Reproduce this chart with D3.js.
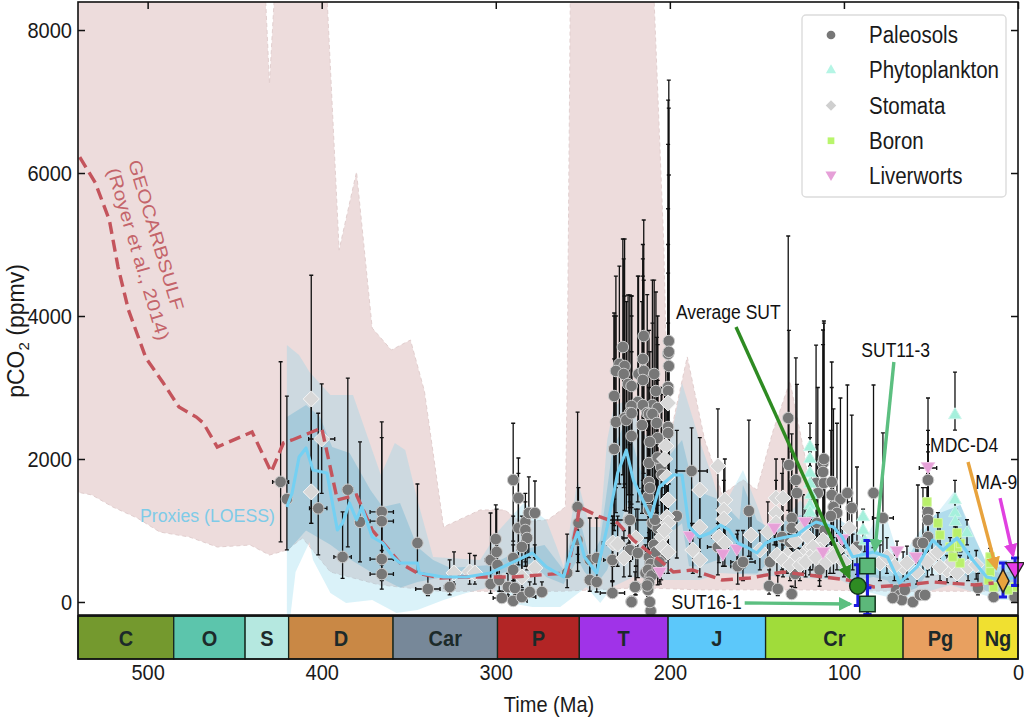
<!DOCTYPE html>
<html>
<head>
<meta charset="utf-8">
<script src="https://cdn.jsdelivr.net/npm/d3@7"></script>
<style>
  body { margin: 0; background: #fff; }
  text { font-family: "Liberation Sans", Arial, sans-serif; }
</style>
</head>
<body>
<svg width="1024" height="720"></svg>
<script>
// geologic periods: name, start, end (Ma)
const periods = [
  ["C", 541, 485, "#74992e"], ["O", 485, 444, "#5cc5ac"], ["S", 444, 419, "#b5e8e0"],
  ["D", 419, 359, "#c98845"], ["Car", 359, 299, "#778899"], ["P", 299, 252, "#b22525"],
  ["T", 252, 201, "#a033e8"], ["J", 201, 145, "#5cc8fa"], ["Cr", 145, 66, "#a0dc3a"],
  ["Pg", 66, 23, "#e8a060"], ["Ng", 23, 0, "#f0e030"]
];

const xTicks = [500, 400, 300, 200, 100, 0];
const yTicks = [0, 2000, 4000, 6000, 8000];

// GEOCARBSULF envelope and mean [age, ppm]
const geoUpper = [[541,9000],[433.3,9000],[430,7245],[426,9000],[398,9000],[390,4923],[380,6014],[371,3832],[360,3524],[349,3664],[341,2950],[330,1049],[309,1287],[295,1287],[285,1119],[270,1150],[260,1329],[259,3000],[257,9000],[210,9000],[203.5,5000],[201,2200],[190,3427],[180,2266],[175,1916],[170,1500],[158,1710],[150,1567],[141,2370],[131,3086],[122,1986],[119.5,1287],[102,600],[79,350],[0,420]];
const geoLower = [[541,1540],[532,1497],[520,1329],[506,1175],[493,979],[476,909],[460,769],[441,797],[430,657],[420,727],[411,895],[395,420],[367,240],[332,150],[263,150],[217,200],[183,170],[125,170],[68,150],[0,150]];
const geoMean = [[539,6224],[530,5860],[522,5343],[517,4685],[511,4084],[501,3413],[491,3063],[482,2727],[472,2587],[468,2503],[460,2168],[440,2378],[429,1818],[422,2224],[417,2266],[400,2434],[391,1427],[380,1497],[371,1007],[355,545],[345,406],[332,336],[317,350],[290,350],[259,406],[253,1147],[252,1329],[240,1189],[230,1105],[221,867],[206,587],[198,420],[187,448],[170,308],[154,336],[135,420],[116,364],[98,308],[83,210],[64,238],[49,280],[24,238],[14,266]];

// proxy LOESS curve and its two envelopes [age, ppm]
const loess = [[420,1329],[417,1524],[413,2028],[409,2154],[405,1846],[397,1804],[391,1007],[388,1105],[384,1385],[380,1147],[377,1329],[371,909],[365,825],[359,629],[355,545],[345,545],[344,406],[330,350],[317,350],[303,406],[290,559],[279,685],[271,490],[261,350],[256,769],[253,979],[249,629],[242,406],[236,1049],[230,1804],[225,2126],[221,1706],[211,1189],[206,1608],[198,1776],[193,1776],[189,1049],[183,909],[177,965],[171,1077],[166,1007],[161,825],[156,769],[150,685],[145,825],[141,867],[133,909],[127,937],[121,1049],[116,1119],[106,1049],[101,909],[95,629],[83,699],[75,629],[68,266],[58,490],[49,867],[43,727],[35,895],[26,587],[18,350],[10,308],[1,350]];
const outerUpper = [[420,3594],[413,3455],[407,3217],[395,2895],[382,2895],[371,2126],[366,1776],[358,2224],[352,2126],[345,1427],[336,629],[309,587],[298,1007],[284,1385],[271,1147],[265,769],[261,490],[253,1706],[246,1049],[240,1049],[236,2266],[232,2755],[223,2825],[217,2406],[211,2266],[206,1846],[201,2126],[193,3063],[183,2266],[176,1776],[170,1287],[158,1846],[150,1357],[143,867],[125,1427],[117,1147],[102,867],[91,727],[82,1147],[76,1217],[68,587],[56,1007],[45,1287],[36,1566],[30,1147],[16,448],[0,587]];
const outerLower = [[420,-200],[418,-200],[415,420],[407,840],[405,587],[395,126],[386,-14],[371,28],[357,-154],[345,-112],[330,28],[317,126],[303,210],[292,-14],[279,-70],[263,-70],[248,210],[240,-14],[233,210],[221,350],[202,308],[183,308],[171,406],[102,308],[91,168],[68,28],[39,238],[10,28],[0,28]];
const innerUpper = [[420,2587],[409,2755],[401,2587],[394,2168],[384,2084],[372,1566],[365,1329],[355,1385],[345,769],[336,587],[326,475],[303,517],[286,727],[272,797],[261,448],[253,1287],[246,587],[240,867],[233,2126],[225,2545],[217,1846],[209,1706],[200,2056],[193,2266],[186,1566],[171,1427],[160,1147],[158,1636],[150,1147],[143,1035],[125,1217],[102,1147],[91,937],[68,448],[48,1217],[33,1357],[19,587],[0,587]];
const innerLower = [[420,700],[409,1000],[395,800],[384,600],[367,350],[355,200],[345,280],[330,350],[303,350],[290,450],[279,550],[271,350],[261,250],[253,600],[249,420],[242,250],[236,450],[230,900],[225,1400],[221,1100],[211,650],[206,800],[198,1000],[193,1100],[189,500],[183,500],[171,600],[161,400],[150,400],[141,600],[127,600],[116,700],[106,650],[101,500],[95,300],[83,350],[75,300],[68,100],[58,200],[49,500],[43,400],[35,500],[26,250],[18,150],[10,150],[0,150]];

// proxy rows: age, ppm, age error, low, high
const paleosols = [
  [423.6,1680,4.6,840,3360],[420,1440,3,730,2880],[402,1310,5,660,2640],[385,1570,3,770,3130],[388,630,5,330,1260],[378,1120,2,560,2240],
  [365.5,1260,6.7,630,2520],[365.5,1130,6.7,520,2300],[365.5,600,6.7,300,1200],[365.5,390,6.7,180,720],
  [345,825,1,420,1650],[339,182,7,90,370],[326.5,210,3,100,590],[303,587,3,300,1245],[303,252,2,120,400],[300,880,2,440,1357],[299.5,700,2,350,1300],[299,517,2,250,900],[298,308,2,150,500],[296.5,56,5,10,150],[293,210,2,100,400],
  [290,1706,1,850,2500],[290,615,2,300,1200],[290,448,2,220,800],[290,15,8,5,60],[289,196,2,100,350],[287,1455,1,730,2014],[287,1035,1,520,1800],[283,1119,1,560,1520],[283,1007,1,500,1400],[282,895,1,450,1300],[285,770,1,380,1200],[281,1245,1,620,1750],[277.5,1245,1,620,1692],[285,70,8,30,170],[280.5,140,8,70,280],[273.5,140,3,70,280],
  [253,1329,1,665,2657],[252.5,1105,1,550,1600],[253,867,1,430,1300],[259,406,1,200,950],[246,587,1,290,1175],[242,615,1,300,1175],[246,308,1,150,600],[242,280,1,140,560],[233,587,5,300,1200],[233,126,7,60,280],[223.5,1147,12,580,2800],[219.5,210,3,100,500],[222,10],[232,2140,1,1000,4000],[211,-125],
  [215,3720,1,1800,5343],[227,3566,1,1780,5077],[200.6,3650,1,1800,7300],[229,3329,1,1650,4699],[226,3300,1,1650,4280],[231,3231,1,1600,4559],[226.5,3189,1,1600,4800],[215.5,3399,1,1700,4800],[218,3189,1,1590,4559],[215,3231,1,1600,4500],[215.5,3105,1,1550,4559],[209,3189,1,1590,4503],[201,3469,1,1730,7020],[200.6,3300,1,1650,6909],[200.6,3500,1,1750,5972],[224,3049,1,1500,4294],[222,3021,1,1500,4280],[232,2881,1,1440,4042],[201,3007,1,1500,5500],[201,2951,1,1470,6400],[208,2951,1,1470,4336],[218.4,2797,1,1400,4559],[222,2741,1,1370,4280],[210,2755,1,1370,4503],[215.5,2755,1,1370,5000],[207,2713,1,1350,4000],[223,2643,1,1320,4294],[213,2643,1,1320,4300],[226,2573,1,1280,5077],
  [231,2517,1,1250,4000],[225,2545,1,1270,4200],[222,2640,1,1320,4000],[212,2630,1,1300,3800],[210,2630,1,1310,3900],[207.5,2503,1,1250,3700],[216,2475,1,1240,4200],[201,2447,1,1220,5000],[201,2363,1,1180,4600],[222,2322,1,1160,3500],[207,2294,1,1150,3600],[211.5,2238,1,1120,3500],[232,2140,1,1070,3400],[207.5,1986,1,990,3100],[212,1944,1,970,3000],[205,1888,1,940,3000],[212,1678,1,840,2800],[204.6,1780,1,890,2900],[207,2020,1,1010,3100],[212.5,1469,1,730,2400],[211.5,1594,1,800,2600],[212,1287,1,640,2200],[210,1105,1,550,1900],[214,406,1,200,800],[212.5,168,1,80,400],[211.5,0],[222,0],[220,210,1,100,420],[223,727,1,360,1400],[218.4,685,1,340,1300],[233,587,1,290,1100],[223,1147,1,570,2200],
  [212,630,1,310,1200],[211,530,1,260,1000],[212.5,450,1,220,900],[211.5,340,1,170,700],[210.5,370,1,180,720],[212,270,1,130,550],[213,230,1,110,460],[205,630,1,310,1100],[207,1035,1,520,1900],[204.6,895,1,450,1600],[208.5,1150,1,570,2000],[209,800,1,400,1500],[208,700,1,350,1300],[207,480,1,240,900],[206,560,1,280,1000],
  [187.5,1832,9,1040,2434],[196,1203,1,615,2400],[172.4,769,6,380,1300],[161,500,4,250,1000],
  [132,2573,1,1280,5119],[131.6,1916,1,950,3800],[127.6,1706,1,850,3413],[127,1524,1,760,3045],[130,1175,1,590,2350],[130,1035,1,520,2100],[116,1664,1,830,3594],[111.5,1664,1,830,3930],[107,1678,1,840,3357],[112,1944,1,970,3804],[112,1818,1,900,3600],[111.5,2000,1,1000,3900],[115,1524,1,760,3000],[107,1497,1,750,3000],[102,1440,1,720,2853],[98,1524,1,760,3035],[95.5,1315,3,660,2615],[83,1524,1,760,3035],[77.6,1175,6,590,2364],[92.5,770,1,385,1888],[106,1329,1,660,2700],[104,1245,1,620,2500],[107.5,1203,1,600,2400],[115.5,1105,1,550,2200],[111,1007,1,500,2000],[114,587,1,300,1000],[114,448,1,220,800],[128,392,1,200,780],[143,224,1,110,450],[138,182,1,90,370],[130,112,1,60,220],[142.5,559,1,280,1100],[158,559,7,300,1000],[154.6,1273,1,640,2545],[135.6,909,1,450,1800],[131,839,1,420,1700],
  [69.5,126],[70,168],[68,98],[66.7,28],[65,168],[72,56],[60.4,0],[56.3,98],[53.4,98],[57.5,825,1,410,1636],[51.7,1706,1,850,2853],[51.7,1259,1,630,2400],[51.7,909,1,450,1800],[54.6,825,1,410,1600],[51.7,1147,1,570,2200],[23,196,1,100,400],[14,70,1,30,140],[2,70,1,30,140]
];
const stomata = [
  [406,2840,1,1100,4570],[406,1540,1,1100,2840],[400,2280,7.5,1520,3050],
  [324,406,3,250,700],[315,420,3,250,680],[312,406,3,250,650],[277.6,475,3,250,800],[285,350,3,200,600],
  [232.8,825,6,500,1200],[230,810,6,500,1200],[226.4,615,5,350,1000],[219.5,895,8,500,1300],
  [202.3,2182,1,1100,3300],[201,2783,1,1400,3900],[203,2000,1,1100,3000],[201.7,1748,1,900,2700],[201,1427,1,800,2200],[201.7,1189,1,700,1800],[201,1105,1,600,1700],[204.6,909,1,500,1400],[204,769,1,400,1200],[201,699,1,400,1100],[203,1000,1,550,1500],
  [182.8,1566,1,900,2300],[172.4,1902,1,1100,2700],[168.4,1427,1,900,2000],[169,1287,1,800,1900],[169,1161,1,700,1700],[182.8,1049,3,600,1500],[171.8,909,4,550,1300],[168.4,825,3,500,1200],[186.8,727,3,400,1100],[182.8,587,2,350,900],
  [153.4,937,1,600,1300],[143.7,979,1,600,1400],[139,1455,1,900,2000],[135,1455,1,900,2000],[139,1245,2,800,1700],[139,1105,2,700,1500],[148.3,727,2,450,1000],[138.5,657,2,400,900],[132.8,657,2,400,900],[129.3,587,1,350,800],[135,587,1,350,800],
  [123.6,657,1,400,900],[119.5,769,1,450,1100],[123.6,1049,1,600,1500],[120.7,909,1,550,1300],[112,867,1,500,1200],[113.8,727,1,450,1000],[117.8,769,1,450,1100],[127,629,1,400,900],[131,517,1,300,750],[125.3,517,1,300,750],[119.5,629,1,380,880],[97,1035,1,650,1400],[108,685,1,400,950],[104,727,1,450,1000],
  [79.3,545,1,300,800],[75.3,629,1,400,900],[66,490,1,300,700],[71,500,1,300,720],[49.4,629,1,380,880],[40.8,448,1,270,650],[35,406,1,250,600],[28.7,490,1,300,700],[44.8,490,1,300,700],[58,420,1,250,600],[63.8,545,1,320,780],
  [128,850,1,550,1200],[122,560,1,350,800],[116,620,1,380,880],[110,560,1,350,800],[106,640,1,400,900],[100,560,1,350,800],[95,700,1,450,950],[52,560,1,350,780],[46,700,1,450,950],[38,560,1,350,780],[24,520,1,320,720]
];
const phytoplankton = [
  [119.5,2168,1,1800,2500],[119.5,2000,1,1700,2300],[119.5,1800,1,1500,2100],[119.5,1650,1,1400,1900],[119,1500,1,1300,1800],[119.5,1350,1,1150,1600],[119.5,1250,1,1050,1450],[36.2,2615,1,2405,3216],[36.2,1427,1,1200,1700],[36.2,1245,1,1050,1450],[36,1120,1,950,1300],[29.3,965,1,800,1150],[89,1189,0,1000,1300],[89,1000,0,850,1150],[88,850,0,700,1000]
];
const boron = [
  [52.3,1399,1,1200,1600],[46,1105,1,950,1250],[44.8,937,1,800,1100],[35,965,1,800,1150],[35,769,1,650,900],[39,769,1,650,900],[33.3,545,1,450,650],[37.4,629,1,520,750],[33,820,1,700,950],
  [16,629,1,500,750],[16,545,1,450,650],[16,420,1,350,500],[17,308,1,250,380],[14,210,1,170,260],[1.7,210,1,170,260],[5.7,168,1,130,210]
];
const liverworts = [
  [205.7,406,1,250,600],[161.5,727,1,550,950],[169.5,657,1,500,850],[188.5,909,1,700,1100],[140,1021,1,800,1250],[122.4,1105,1,900,1300],[112,685,1,500,850],[101,867,1,650,1050],[69.5,699,1,550,850],[58.6,615,1,480,780],[51.7,1874,5,1650,2100]
];

// this study's samples: age, ppm, low, high, kind
const sutSamples = [
  ["Square", 86.5, 503, -180, 860, "#5cb87a"],
  ["Square", 86.5, -28, -180, 200, "#5cb87a"],
  ["Circle", 92, 224, -50, 520, "#2e8b22"]
];
const mdcSample = [8.6, 294, 70, 545];
const maSample = [1.7, 448, 230, 615];

// arrows: label, from age, from ppm, to age, to ppm, colour
const arrows = [
  ["Average SUT", 162, 3846, 97, 350, "#2e8b22"],
  ["SUT11-3", 71.3, 3357, 82.2, 727, "#5cbf80"],
  ["SUT16-1", 157, -14, 96.6, -28, "#5cbf80"],
  ["MDC-D4", 28.7, 1958, 12.6, 475, "#e8a33d"],
  ["MA-9", 10.3, 1454, 2.9, 657, "#e040e0"]
];
// label anchor position in the data frame: age, ppm
const arrowLabels = [
  ["Average SUT", 196.5, 4050], ["SUT11-3", 90, 3520], ["MDC-D4", 50.5, 2190], ["MA-9", 24.5, 1680], ["SUT16-1", 199, 0]
];

const legendNames = ["Paleosols", "Phytoplankton", "Stomata", "Boron", "Liverworts"];

const svg = d3.select("svg");
const plotL = 78, plotR = 1018, plotT = 2, plotB = 615;

const x = d3.scaleLinear().domain([540, 0]).range([plotL, plotR]);
const y = d3.scaleLinear().domain([8392, -182]).range([plotT, plotB]);

svg.append("clipPath").attr("id", "plot").append("rect")
  .attr("x", plotL).attr("y", plotT).attr("width", plotR - plotL).attr("height", plotB - plotT);
const plot = svg.append("g").attr("clip-path", "url(#plot)");

// join an upper and lower envelope that have their own age grids
function band(upper, lower) {
  const pts = upper.map(d => [x(d[0]), y(d[1])]).concat(lower.slice().reverse().map(d => [x(d[0]), y(d[1])]));
  return "M" + pts.join("L") + "Z";
}

plot.append("path").attr("d", band(geoUpper, geoLower))
  .style("fill", "#eddcdc").style("stroke", "#e2cfcf").style("stroke-dasharray", "4,3");
plot.append("path").attr("d", band(outerUpper, outerLower))
  .style("fill", "#86d4ea").style("opacity", 0.3);
plot.append("path").attr("d", band(innerUpper, innerLower))
  .style("fill", "#4fa8cc").style("opacity", 0.3);

function errorBars(rows) {
  const g = plot.append("g").style("stroke", "#111").style("stroke-width", 1.3).style("fill", "none");
  rows.filter(d => d.length > 2).forEach(d => {
    const cx = x(d[0]), cy = y(d[1]), dx = x(d[0] - d[2]) - cx;
    g.append("path").attr("d",
      `M${cx},${y(d[3])}V${y(d[4])}M${cx - 2},${y(d[3])}h4M${cx - 2},${y(d[4])}h4` +
      `M${cx - dx},${cy}H${cx + dx}M${cx - dx},${cy - 2}v4M${cx + dx},${cy - 2}v4`);
  });
}

function marks(rows, type, size, fill, edge) {
  plot.append("g").selectAll("path").data(rows).join("path")
    .attr("transform", d => `translate(${x(d[0])},${y(d[1])})`)
    .attr("d", d3.symbol().type(type).size(size))
    .style("fill", fill).style("stroke", edge).style("stroke-width", 1);
}

const triDown = { draw(c, s) { const r = Math.sqrt(s / 1.3); c.moveTo(-r, -r * 0.8); c.lineTo(r, -r * 0.8); c.lineTo(0, r * 0.9); c.closePath(); } };
// square standing on its corner, matplotlib's "D"
const squareDiamond = { draw(c, s) { const r = Math.sqrt(s / 2); c.moveTo(0, -r); c.lineTo(r, 0); c.lineTo(0, r); c.lineTo(-r, 0); c.closePath(); } };

[paleosols, stomata, phytoplankton, boron, liverworts].forEach(errorBars);
marks(paleosols, d3.symbolCircle, 105, "#777", "#ccc");
marks(phytoplankton, d3.symbolTriangle, 70, "#a5f0dc", "#c8f5ea");
marks(stomata, squareDiamond, 130, "#d8d8d8", "#f4f4f4");
marks(boron, d3.symbolSquare, 75, "#b9f06a", "#d5f7a8");
marks(liverworts, triDown, 60, "#e6a0d8", "#f0c8e8");

const line = d3.line().x(d => x(d[0])).y(d => y(d[1]));
plot.append("path").attr("d", line(geoMean)).style("fill", "none")
  .style("stroke", "#c4545c").style("stroke-width", 3.4).style("stroke-dasharray", "12,6");
plot.append("path").attr("d", line(loess)).style("fill", "none")
  .style("stroke", "#74d0f2").style("stroke-width", 3.1).style("stroke-linejoin", "round");

// text on the curves
svg.append("text").attr("transform", "translate(128,162) rotate(73.5)")
  .attr("textLength", 156).attr("lengthAdjust", "spacingAndGlyphs")
  .text("GEOCARBSULF").style("font-size", "18px").style("fill", "#c4646a");
svg.append("text").attr("transform", "translate(107,170) rotate(73.5)")
  .attr("textLength", 179).attr("lengthAdjust", "spacingAndGlyphs")
  .text("(Royer et al., 2014)").style("font-size", "18px").style("fill", "#c4646a");
svg.append("text").attr("x", 140).attr("y", 522).text("Proxies (LOESS)")
  .attr("textLength", 135).attr("lengthAdjust", "spacingAndGlyphs")
  .style("font-size", "18px").style("fill", "#7ecbe8");

// blue error bars and sample symbols
const blue = svg.append("g").style("stroke", "#1a1ae0").style("stroke-width", 3).style("fill", "none");
sutSamples.forEach(d => {
  const cx = x(d[1]);
  blue.append("path").attr("d", `M${cx},${y(d[3])}V${y(d[4])}M${cx - 4},${y(d[3])}h8M${cx - 4},${y(d[4])}h8`);
});
[mdcSample, maSample].forEach(d => {
  const cx = x(d[0]);
  blue.append("path").attr("d", `M${cx},${y(d[2])}V${y(d[3])}M${cx - 4},${y(d[2])}h8M${cx - 4},${y(d[3])}h8`);
});
sutSamples.forEach(d => {
  svg.append("path").attr("transform", `translate(${x(d[1])},${y(d[2])})`)
    .attr("d", d3.symbol().type(d[0] === "Square" ? d3.symbolSquare : d3.symbolCircle).size(d[0] === "Square" ? 240 : 210))
    .style("fill", d[5]).style("stroke", "#12351c").style("stroke-width", 1.5);
});
svg.append("path").attr("transform", `translate(${x(mdcSample[0])},${y(mdcSample[1])}) scale(0.85,0.95)`)
  .attr("d", d3.symbol().type(d3.symbolDiamond).size(170))
  .style("fill", "#e8a33d").style("stroke", "#222").style("stroke-width", 1.7);
svg.append("path").attr("transform", `translate(${x(maSample[0])},${y(maSample[1])})`)
  .attr("d", d3.symbol().type(triDown).size(110))
  .style("fill", "#e83ce8").style("stroke", "#222").style("stroke-width", 1.3);

// arrows
arrows.forEach((d, i) => {
  svg.append("marker").attr("id", "head" + i).attr("viewBox", "0 0 10 10")
    .attr("refX", 8).attr("refY", 5).attr("markerWidth", 4).attr("markerHeight", 4).attr("orient", "auto")
    .append("path").attr("d", "M0,0L10,5L0,10Z").style("fill", d[5]);
  svg.append("line").attr("x1", x(d[1])).attr("y1", y(d[2])).attr("x2", x(d[3])).attr("y2", y(d[4]))
    .style("stroke", d[5]).style("stroke-width", 3.4).attr("marker-end", `url(#head${i})`);
});
arrowLabels.forEach(d => {
  svg.append("text").attr("x", x(d[1])).attr("y", y(d[2])).attr("dy", "0.35em")
    .text(d[0]).style("font-size", "17.5px").style("fill", "#111");
});

// geologic time strip
const strip = svg.append("g");
const stripTop = 616, stripBottom = 659;
strip.selectAll("rect").data(periods).join("rect")
  .attr("x", d => Math.max(plotL, x(d[1]))).attr("y", stripTop)
  .attr("width", d => x(d[2]) - Math.max(plotL, x(d[1]))).attr("height", stripBottom - stripTop)
  .style("fill", d => d[3]).style("stroke", "#16261c").style("stroke-width", 1.3);
strip.selectAll("text").data(periods).join("text")
  .attr("x", d => (Math.max(plotL, x(d[1])) + x(d[2])) / 2).attr("y", 638).attr("dy", "0.35em")
  .attr("text-anchor", "middle").text(d => d[0])
  .style("font-size", "20px").style("font-weight", "bold").style("fill", "#1c2a2a");

// frame and axes
svg.append("rect").attr("x", plotL).attr("y", plotT).attr("width", plotR - plotL).attr("height", plotB - plotT)
  .style("fill", "none").style("stroke", "#111").style("stroke-width", 1.6);
svg.append("rect").attr("x", plotL).attr("y", stripTop).attr("width", plotR - plotL).attr("height", stripBottom - stripTop)
  .style("fill", "none").style("stroke", "#111").style("stroke-width", 1.6);

const tickStyle = g => {
  g.select(".domain").remove();
  g.selectAll(".tick text").style("font-size", "20px").style("fill", "#1a1a1a").style("font-family", '"Liberation Sans", Arial, sans-serif');
  g.selectAll(".tick line").style("stroke", "#111").style("stroke-width", 1.5);
};
svg.append("g").attr("transform", `translate(${plotL},0)`)
  .call(d3.axisLeft(y).tickValues(yTicks).tickFormat(d3.format("d")).tickSize(-7).tickPadding(6)).call(tickStyle);
svg.append("g").attr("transform", `translate(${plotR},0)`)
  .call(d3.axisRight(y).tickValues(yTicks).tickFormat("").tickSize(-7)).call(tickStyle);
svg.append("g").attr("transform", `translate(0,${plotT})`)
  .call(d3.axisTop(x).tickValues(xTicks).tickFormat("").tickSize(-7)).call(tickStyle);
svg.append("g").attr("transform", `translate(0,${stripBottom})`)
  .call(d3.axisBottom(x).tickValues(xTicks).tickFormat(d3.format("d")).tickSize(0).tickPadding(5)).call(tickStyle);

svg.append("text").attr("x", 549).attr("y", 712).attr("text-anchor", "middle")
  .text("Time (Ma)").style("font-size", "20px").style("fill", "#1a1a1a");

// legend
svg.append("rect").attr("x", 802).attr("y", 15).attr("width", 204).attr("height", 182).attr("rx", 4)
  .style("fill", "#fff").style("stroke", "#dcdcdc").style("stroke-width", 1.4);
const legendScale = d3.scalePoint().domain(legendNames).range([35, 176]);
const legendMarks = [[d3.symbolCircle, "#777", 60], [d3.symbolTriangle, "#b5f5e5", 45], [squareDiamond, "#cfcfcf", 55], [d3.symbolSquare, "#b9f56c", 45], [triDown, "#e6a0d8", 40]];
legendNames.forEach((name, i) => {
  svg.append("path").attr("transform", `translate(831,${legendScale(name)})`)
    .attr("d", d3.symbol().type(legendMarks[i][0]).size(legendMarks[i][2])).style("fill", legendMarks[i][1]);
  svg.append("text").attr("x", 869).attr("y", legendScale(name)).attr("dy", "0.35em")
    .text(name).style("font-size", "20.5px").style("fill", "#1a1a1a");
});

// the original's type is a little taller than it is wide: keep each width, raise the size
svg.selectAll("text").filter(function () { return !this.getAttribute("textLength") && this.textContent; }).each(function () {
  const size = parseFloat(getComputedStyle(this).fontSize), width = this.getComputedTextLength();
  d3.select(this).style("font-size", size * 1.13 + "px").attr("textLength", width).attr("lengthAdjust", "spacingAndGlyphs");
});

const yLabel = svg.append("text").attr("transform", "translate(24,331) rotate(-90)")
  .attr("text-anchor", "middle").style("font-size", "23px").style("fill", "#1a1a1a");
yLabel.append("tspan").text("pCO");
yLabel.append("tspan").text("2").attr("dy", 5).style("font-size", "15px");
yLabel.append("tspan").text(" (ppmv)").attr("dy", -5);
</script>
</body>
</html>
